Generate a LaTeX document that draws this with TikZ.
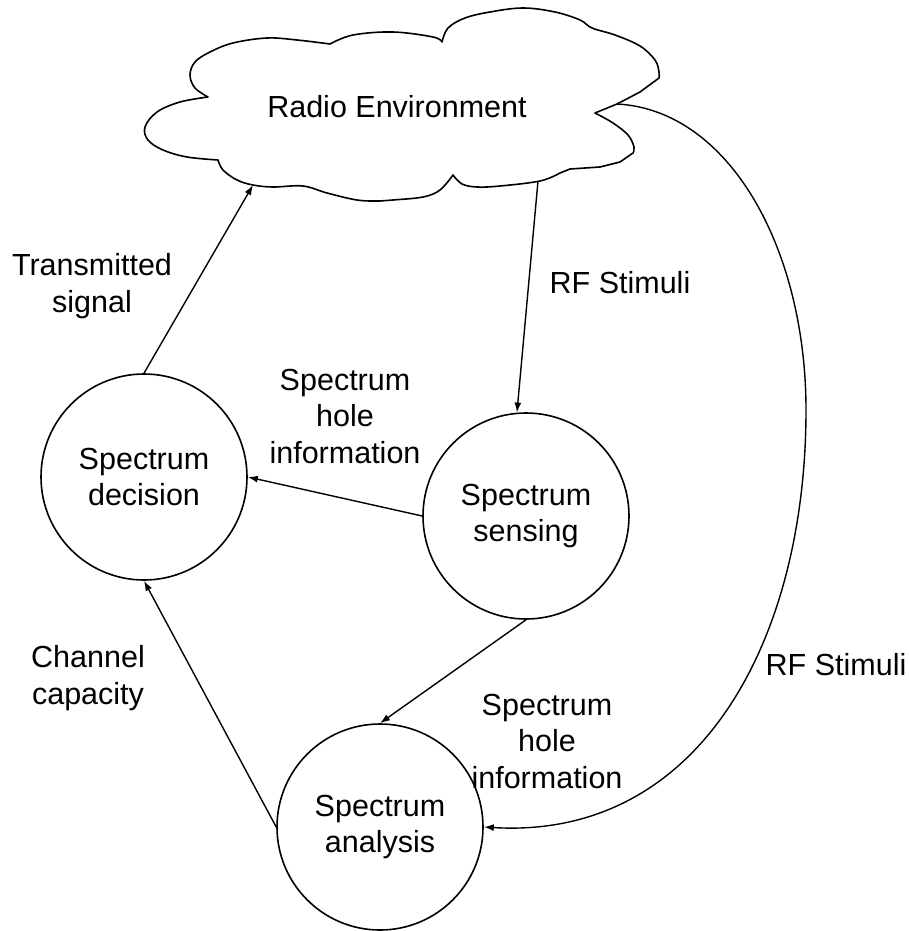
\documentclass[tikz,border=0pt]{standalone}
\usepackage{fontspec}
\setmainfont{Liberation Sans}
\usetikzlibrary{arrows.meta}
\begin{document}
\begin{tikzpicture}[x=1pt,y=-1pt,
  font=\fontsize{30.5}{36.5}\selectfont,
  state/.style={circle,draw,line width=1.6pt,minimum size=206pt,inner sep=0pt,align=center},
  lbl/.style={align=center,inner sep=0pt},
  lobe/.style={smooth,tension=0.6},
  edge/.style={line width=1.4pt,-{Latex[length=10pt,width=7pt]}}]
\useasboundingbox (0,0) rectangle (908,931);
% cloud
\draw[line width=1.6pt,line join=round]
 (208,97) -- plot[lobe] coordinates {(208,97) (195,88) (190,75) (195,62) (210,52) (233,43) (267,38) (297,40) (330,44)}
 -- plot[lobe] coordinates {(330,44) (353,35) (393,32) (433,37) (442,42)}
 -- plot[lobe] coordinates {(442,42) (448,28) (465,18) (490,12) (523,8) (555,12) (580,20) (592,28) (615,35) (640,46) (655,60) (659,72) (659,78)}
 -- (640,92) -- (617,104) -- (595,113)
 -- plot[lobe] coordinates {(595,113) (613,123) (628,135) (634,147) (633,153)}
 -- (620,162) -- (600,167) -- (570,169) -- (560,173)
 -- plot[lobe] coordinates {(560,173) (540,181) (500,186) (477,187) (462,184) (453,175)}
 -- plot[lobe] coordinates {(453,175) (440,190) (423,197) (393,200) (380,201) (357,200) (327,193) (303,186) (273,187) (253,185) (237,180) (223,170) (218,160)}
 -- plot[lobe] coordinates {(218,160) (187,157) (163,150) (148,140) (145,127) (157,112) (180,102) (208,97)}
 -- cycle;
\node[lbl] (env) at (397,107) {Radio Environment};
\coordinate (cloudB) at (538,181);
\coordinate (cloudL) at (253,185);
\coordinate (cloudR) at (617,104);
\coordinate (bend) at (806,410);
% states
\node[state] (dec) at (144,477) {Spectrum\\decision};
\node[state] (sen) at (526,516) {Spectrum\\sensing};
\node[state] (ana) at (380,827) {Spectrum\\analysis};
% edges
\draw[edge] (cloudB) -- (sen.95);
\draw[edge] (dec.north) -- (cloudL);
\draw[edge] (sen.west) -- (dec.east);
\draw[edge] (sen.south) -- (ana.north);
\draw[edge] (ana.west) -- (dec.south);
\draw[edge] (cloudR) .. controls (730,110) and (806,250) .. (bend)
  .. controls (806,640) and (700,840) .. (ana.east);
% labels
\node[lbl] (l1) at (92,286) {Transmitted\\signal};
\node[lbl] (l2) at (620,283) {RF Stimuli};
\node[lbl] (l3) at (345,416) {Spectrum\\hole\\information};
\node[lbl] (l4) at (547,741) {Spectrum\\hole\\information};
\node[lbl] (l5) at (88,678) {Channel\\capacity};
\node[lbl] (l6) at (836,665) {RF Stimuli};
\end{tikzpicture}
\end{document}
